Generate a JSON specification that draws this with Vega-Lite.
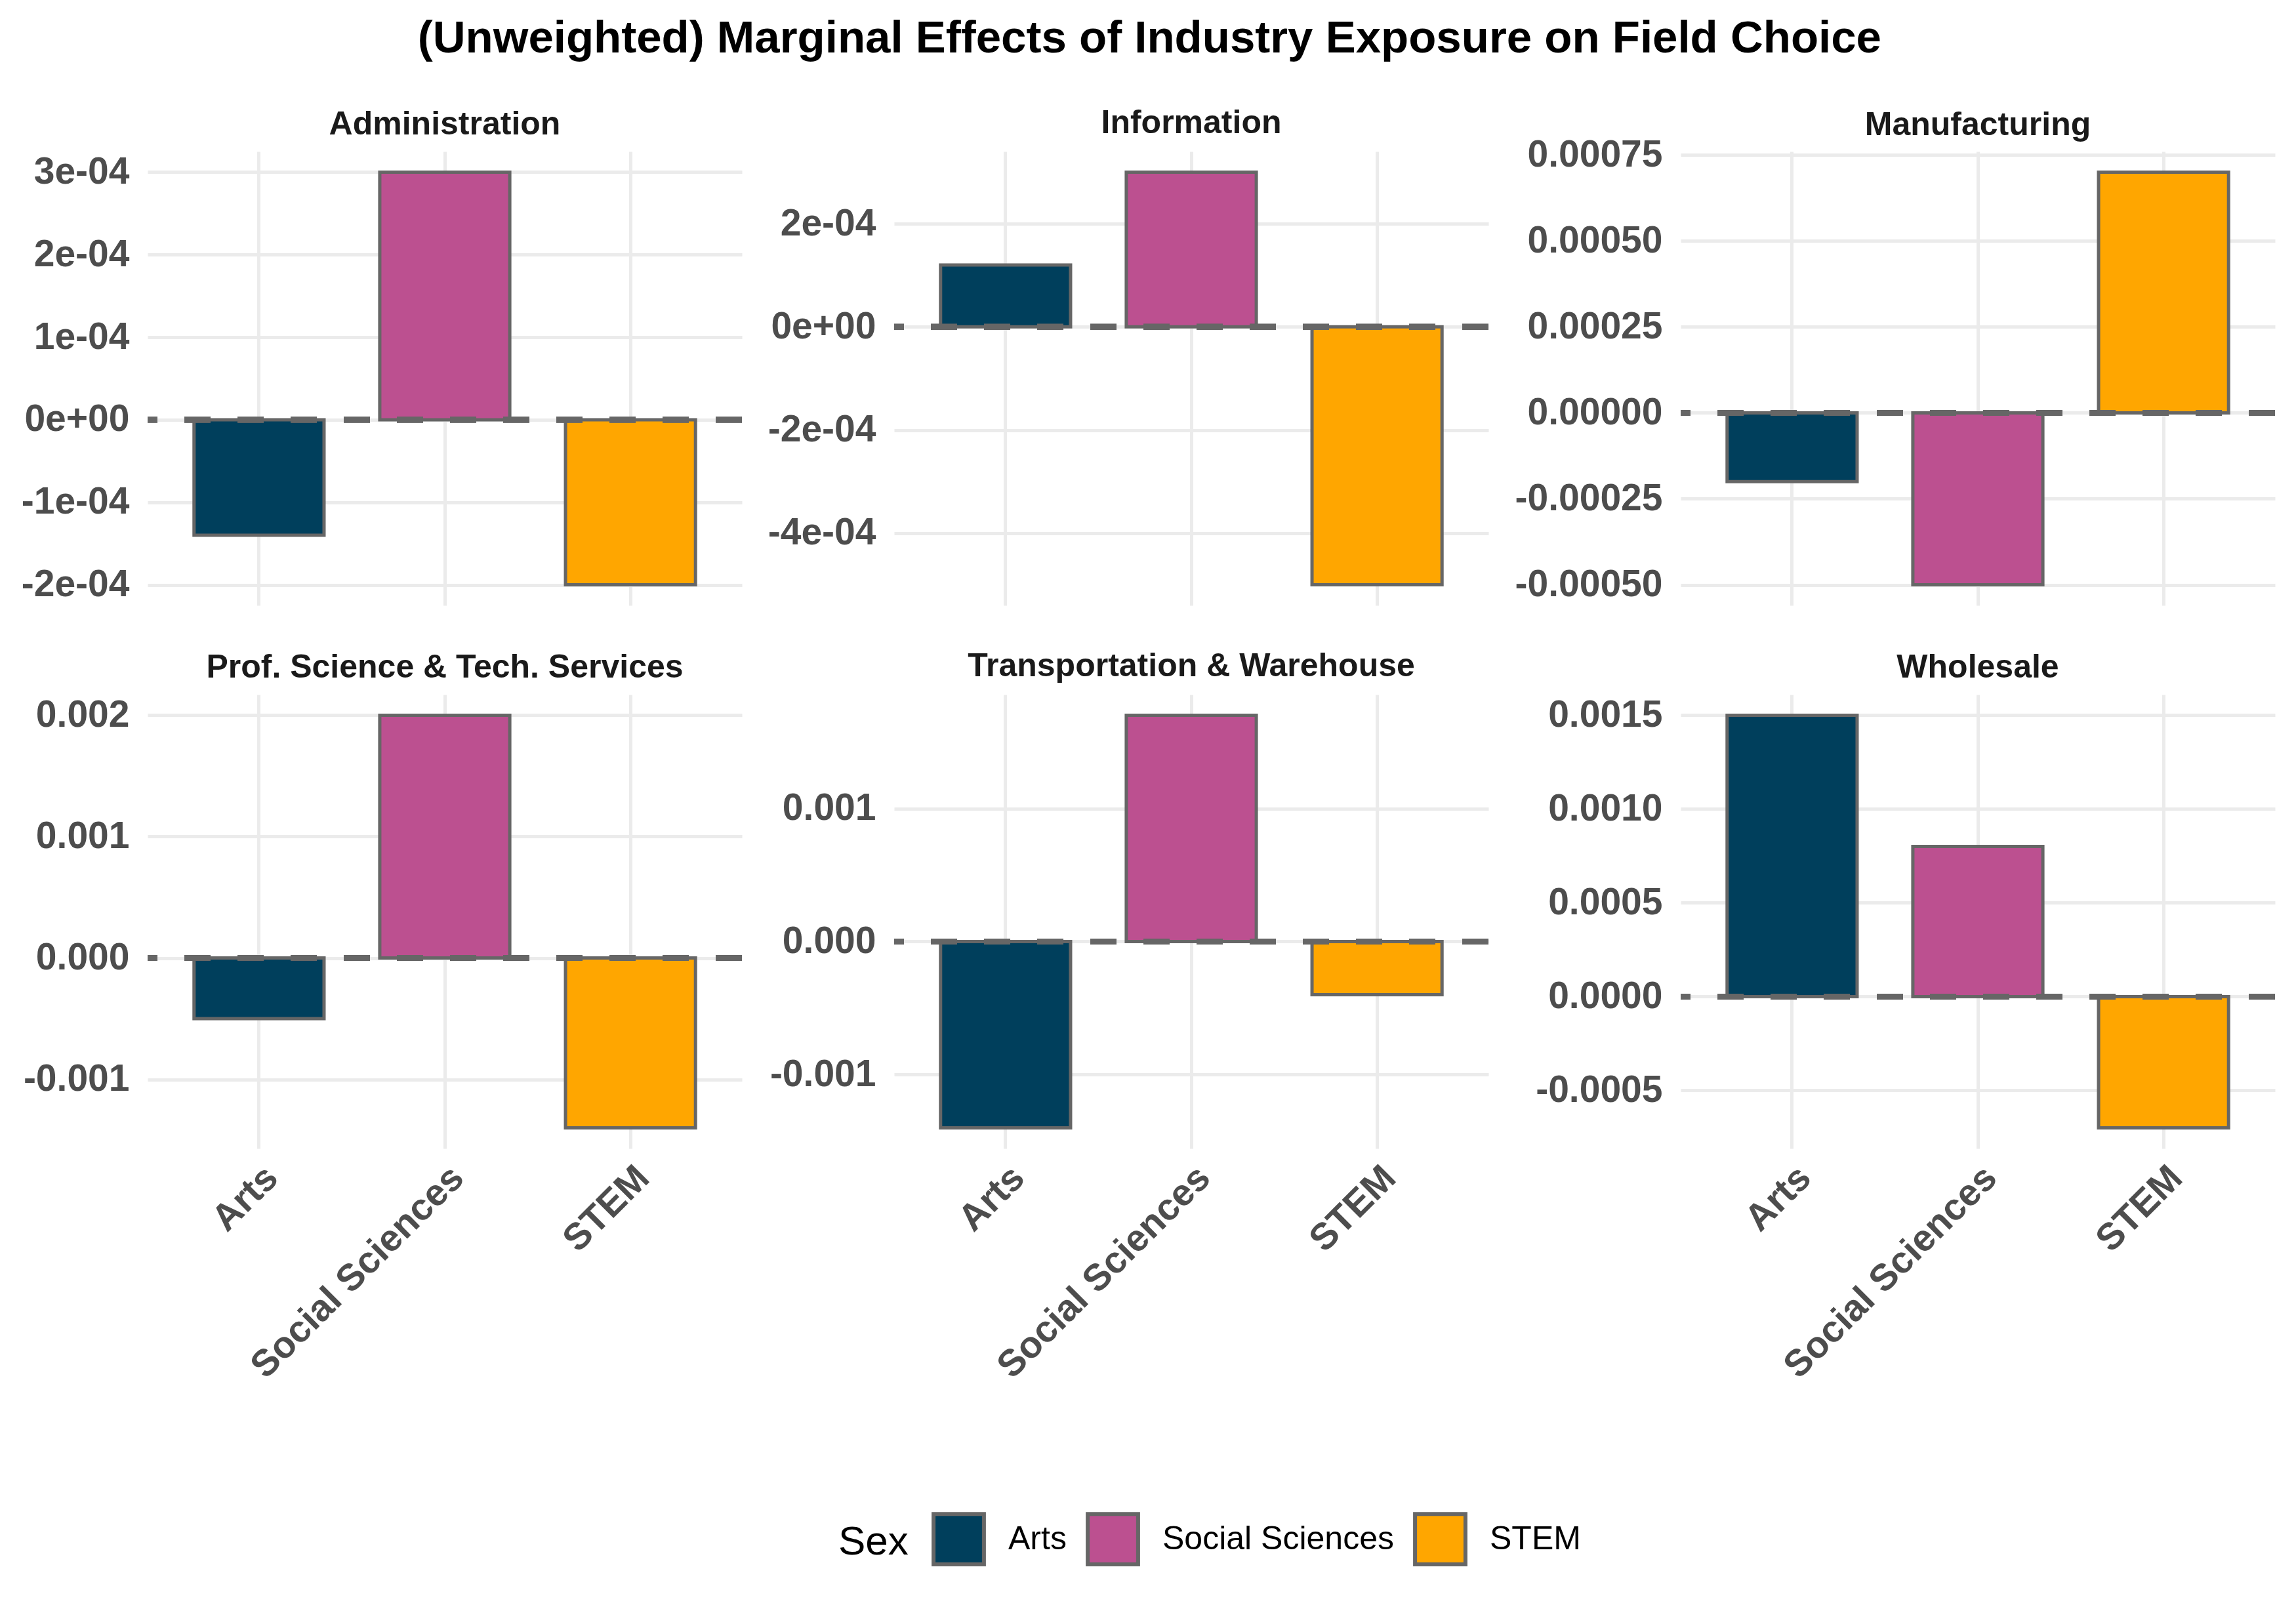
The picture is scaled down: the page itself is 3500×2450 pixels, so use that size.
{
  "$schema": "https://vega.github.io/schema/vega-lite/v6.json",
  "padding": {"left": 32, "top": 25, "right": 5, "bottom": 20},
  "title": {"text": "(Unweighted) Marginal Effects of Industry Exposure on Field Choice", "fontSize": 69, "fontWeight": "bold", "color": "#000000", "anchor": "middle", "offset": 69, "font": "Liberation Sans"},
  "data": {"values": [
    {"industry": "Administration", "field": "Arts", "effect": -0.00014},
    {"industry": "Administration", "field": "Social Sciences", "effect": 0.0003},
    {"industry": "Administration", "field": "STEM", "effect": -0.0002},
    {"industry": "Information", "field": "Arts", "effect": 0.00012},
    {"industry": "Information", "field": "Social Sciences", "effect": 0.0003},
    {"industry": "Information", "field": "STEM", "effect": -0.0005},
    {"industry": "Manufacturing", "field": "Arts", "effect": -0.0002},
    {"industry": "Manufacturing", "field": "Social Sciences", "effect": -0.0005},
    {"industry": "Manufacturing", "field": "STEM", "effect": 0.0007},
    {"industry": "Prof. Science & Tech. Services", "field": "Arts", "effect": -0.0005},
    {"industry": "Prof. Science & Tech. Services", "field": "Social Sciences", "effect": 0.002},
    {"industry": "Prof. Science & Tech. Services", "field": "STEM", "effect": -0.0014},
    {"industry": "Transportation & Warehouse", "field": "Arts", "effect": -0.0014},
    {"industry": "Transportation & Warehouse", "field": "Social Sciences", "effect": 0.0017},
    {"industry": "Transportation & Warehouse", "field": "STEM", "effect": -0.0004},
    {"industry": "Wholesale", "field": "Arts", "effect": 0.0015},
    {"industry": "Wholesale", "field": "Social Sciences", "effect": 0.0008},
    {"industry": "Wholesale", "field": "STEM", "effect": -0.0007}
  ]},
  "columns": 3,
  "spacing": 34,
  "bounds": "full",
  "align": "none",
  "resolve": {"scale": {"color": "shared"}, "legend": {"color": "shared"}},
  "concat": [
    {
      "vconcat": [
        {
          "title": {"text": "Administration", "fontSize": 50, "fontWeight": "bold", "color": "#1A1A1A", "anchor": "middle", "frame": "group", "offset": 16},
          "width": 906, "height": 692,
          "transform": [{"filter": "datum.industry === 'Administration'"}],
          "layer": [
            {"mark": {"type": "bar", "stroke": "#666666", "strokeWidth": 5},
             "encoding": {
               "x": {"field": "field", "type": "nominal", "sort": ["Arts", "Social Sciences", "STEM"], "scale": {"paddingInner": 0.3, "paddingOuter": 0.25}, "axis": {"title": null, "labels": false, "grid": true, "bandPosition": 0.5}},
               "y": {"field": "effect", "type": "quantitative", "scale": {"domain": [-0.000225, 0.000325], "nice": false, "zero": false}, "axis": {"title": null, "grid": true, "values": [-0.0002, -0.0001, 0, 0.0001, 0.0002, 0.0003], "labelExpr": "replace(replace(replace(format(datum.value, '.0e'), 'e-', 'e-0'), 'e+', 'e+0'), '\u2212', '-')"}},
               "color": {"field": "field", "type": "nominal", "scale": {"domain": ["Arts", "Social Sciences", "STEM"], "range": ["#003F5C", "#BC5090", "#FFA600"]}, "legend": {"title": "Sex", "orient": "none", "legendX": 1053, "legendY": 2074, "direction": "horizontal", "titleOrient": "left", "titleBaseline": "middle", "titleFontSize": 62, "titleFontWeight": "normal", "titleColor": "#000000", "titlePadding": 35, "labelFontSize": 50, "labelColor": "#000000", "labelOffset": 34, "labelLimit": 1000, "columnPadding": 20, "symbolType": "square", "symbolSize": 5900, "symbolStrokeColor": "#666666", "symbolStrokeWidth": 6, "symbolOpacity": 1}}
             }},
            {"mark": {"type": "rule", "color": "#666666", "strokeWidth": 9, "strokeDash": [40, 41]}, "encoding": {"y": {"datum": 0}}}
          ]
        },
        {
          "title": {"text": "Prof. Science & Tech. Services", "fontSize": 50, "fontWeight": "bold", "color": "#1A1A1A", "anchor": "middle", "frame": "group", "offset": 16},
          "width": 906, "height": 692,
          "transform": [{"filter": "datum.industry === 'Prof. Science & Tech. Services'"}],
          "layer": [
            {"mark": {"type": "bar", "stroke": "#666666", "strokeWidth": 5},
             "encoding": {
               "x": {"field": "field", "type": "nominal", "sort": ["Arts", "Social Sciences", "STEM"], "scale": {"paddingInner": 0.3, "paddingOuter": 0.25}, "axis": {"title": null, "labels": true, "grid": true, "bandPosition": 0.5}},
               "y": {"field": "effect", "type": "quantitative", "scale": {"domain": [-0.00157, 0.00217], "nice": false, "zero": false}, "axis": {"title": null, "grid": true, "values": [-0.001, 0, 0.001, 0.002], "labelExpr": "replace(format(datum.value, '.3f'), '\u2212', '-')"}},
               "color": {"field": "field", "type": "nominal", "scale": {"domain": ["Arts", "Social Sciences", "STEM"], "range": ["#003F5C", "#BC5090", "#FFA600"]}}
             }},
            {"mark": {"type": "rule", "color": "#666666", "strokeWidth": 9, "strokeDash": [40, 41]}, "encoding": {"y": {"datum": 0}}}
          ]
        }
      ],
      "spacing": 136,
      "bounds": "flush",
      "resolve": {"scale": {"color": "shared", "x": "independent", "y": "independent"}, "legend": {"color": "shared"}}
    },
    {
      "vconcat": [
        {
          "title": {"text": "Information", "fontSize": 50, "fontWeight": "bold", "color": "#1A1A1A", "anchor": "middle", "frame": "group", "offset": 18},
          "width": 906, "height": 692,
          "transform": [{"filter": "datum.industry === 'Information'"}],
          "layer": [
            {"mark": {"type": "bar", "stroke": "#666666", "strokeWidth": 5},
             "encoding": {
               "x": {"field": "field", "type": "nominal", "sort": ["Arts", "Social Sciences", "STEM"], "scale": {"paddingInner": 0.3, "paddingOuter": 0.25}, "axis": {"title": null, "labels": false, "grid": true, "bandPosition": 0.5}},
               "y": {"field": "effect", "type": "quantitative", "scale": {"domain": [-0.00054, 0.00034], "nice": false, "zero": false}, "axis": {"title": null, "grid": true, "values": [-0.0004, -0.0002, 0, 0.0002], "labelExpr": "replace(replace(replace(format(datum.value, '.0e'), 'e-', 'e-0'), 'e+', 'e+0'), '\u2212', '-')"}},
               "color": {"field": "field", "type": "nominal", "scale": {"domain": ["Arts", "Social Sciences", "STEM"], "range": ["#003F5C", "#BC5090", "#FFA600"]}}
             }},
            {"mark": {"type": "rule", "color": "#666666", "strokeWidth": 9, "strokeDash": [40, 41]}, "encoding": {"y": {"datum": 0}}}
          ]
        },
        {
          "title": {"text": "Transportation & Warehouse", "fontSize": 50, "fontWeight": "bold", "color": "#1A1A1A", "anchor": "middle", "frame": "group", "offset": 18},
          "width": 906, "height": 692,
          "transform": [{"filter": "datum.industry === 'Transportation & Warehouse'"}],
          "layer": [
            {"mark": {"type": "bar", "stroke": "#666666", "strokeWidth": 5},
             "encoding": {
               "x": {"field": "field", "type": "nominal", "sort": ["Arts", "Social Sciences", "STEM"], "scale": {"paddingInner": 0.3, "paddingOuter": 0.25}, "axis": {"title": null, "labels": true, "grid": true, "bandPosition": 0.5}},
               "y": {"field": "effect", "type": "quantitative", "scale": {"domain": [-0.001555, 0.001855], "nice": false, "zero": false}, "axis": {"title": null, "grid": true, "values": [-0.001, 0, 0.001], "labelExpr": "replace(format(datum.value, '.3f'), '\u2212', '-')"}},
               "color": {"field": "field", "type": "nominal", "scale": {"domain": ["Arts", "Social Sciences", "STEM"], "range": ["#003F5C", "#BC5090", "#FFA600"]}}
             }},
            {"mark": {"type": "rule", "color": "#666666", "strokeWidth": 9, "strokeDash": [40, 41]}, "encoding": {"y": {"datum": 0}}}
          ]
        }
      ],
      "spacing": 136,
      "bounds": "flush",
      "resolve": {"scale": {"color": "shared", "x": "independent", "y": "independent"}, "legend": {"color": "shared"}}
    },
    {
      "vconcat": [
        {
          "title": {"text": "Manufacturing", "fontSize": 50, "fontWeight": "bold", "color": "#1A1A1A", "anchor": "middle", "frame": "group", "offset": -9},
          "width": 906, "height": 692,
          "transform": [{"filter": "datum.industry === 'Manufacturing'"}],
          "layer": [
            {"mark": {"type": "bar", "stroke": "#666666", "strokeWidth": 5},
             "encoding": {
               "x": {"field": "field", "type": "nominal", "sort": ["Arts", "Social Sciences", "STEM"], "scale": {"paddingInner": 0.3, "paddingOuter": 0.25}, "axis": {"title": null, "labels": false, "grid": true, "bandPosition": 0.5}},
               "y": {"field": "effect", "type": "quantitative", "scale": {"domain": [-0.00056, 0.00076], "nice": false, "zero": false}, "axis": {"title": null, "grid": true, "values": [-0.0005, -0.00025, 0, 0.00025, 0.0005, 0.00075], "labelExpr": "replace(format(datum.value, '.5f'), '\u2212', '-')"}},
               "color": {"field": "field", "type": "nominal", "scale": {"domain": ["Arts", "Social Sciences", "STEM"], "range": ["#003F5C", "#BC5090", "#FFA600"]}}
             }},
            {"mark": {"type": "rule", "color": "#666666", "strokeWidth": 9, "strokeDash": [40, 41]}, "encoding": {"y": {"datum": 0}}}
          ]
        },
        {
          "title": {"text": "Wholesale", "fontSize": 50, "fontWeight": "bold", "color": "#1A1A1A", "anchor": "middle", "frame": "group", "offset": 16},
          "width": 906, "height": 692,
          "transform": [{"filter": "datum.industry === 'Wholesale'"}],
          "layer": [
            {"mark": {"type": "bar", "stroke": "#666666", "strokeWidth": 5},
             "encoding": {
               "x": {"field": "field", "type": "nominal", "sort": ["Arts", "Social Sciences", "STEM"], "scale": {"paddingInner": 0.3, "paddingOuter": 0.25}, "axis": {"title": null, "labels": true, "grid": true, "bandPosition": 0.5}},
               "y": {"field": "effect", "type": "quantitative", "scale": {"domain": [-0.00081, 0.00161], "nice": false, "zero": false}, "axis": {"title": null, "grid": true, "values": [-0.0005, 0, 0.0005, 0.001, 0.0015], "labelExpr": "replace(format(datum.value, '.4f'), '\u2212', '-')"}},
               "color": {"field": "field", "type": "nominal", "scale": {"domain": ["Arts", "Social Sciences", "STEM"], "range": ["#003F5C", "#BC5090", "#FFA600"]}}
             }},
            {"mark": {"type": "rule", "color": "#666666", "strokeWidth": 9, "strokeDash": [40, 41]}, "encoding": {"y": {"datum": 0}}}
          ]
        }
      ],
      "spacing": 136,
      "bounds": "flush",
      "resolve": {"scale": {"color": "shared", "x": "independent", "y": "independent"}, "legend": {"color": "shared"}}
    }
  ],
  "config": {
    "font": "Liberation Sans",
    "view": {"stroke": null},
    "axis": {"domain": false, "ticks": false, "tickSize": 0, "labelFont": "Liberation Sans", "labelFontSize": 57, "labelFontWeight": "bold", "labelColor": "#4D4D4D", "labelLimit": 1000, "gridColor": "#EBEBEB", "gridWidth": 5, "labelPadding": 28},
    "axisX": {"labelAngle": -45, "labelAlign": "right", "labelBaseline": "top", "labelPadding": 16},
    "legend": {"labelFont": "Liberation Sans", "titleFont": "Liberation Sans", "labelLimit": 1000}
  }
}
